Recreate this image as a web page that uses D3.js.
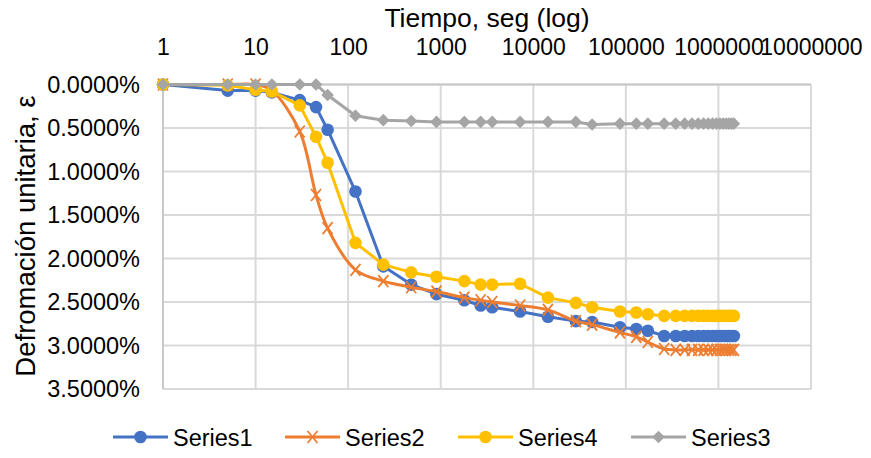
<!DOCTYPE html>
<html><head><meta charset="utf-8">
<script src="https://cdn.jsdelivr.net/npm/d3@7"></script>
<style>body{margin:0;background:#fff;} svg{display:block;font-family:"Liberation Sans",Arial,sans-serif;}</style>
</head><body>
<svg id="c" width="871" height="458"></svg>
<script>
const times = [1,5,10,15,30,45,60,120,240,480,900,1800,2700,3600,7200,14400,28800,43200,86400,129600,172800,259200,345600,432000,518400,604800,691200,777600,864000,950400,1036800,1123200,1209600,1296000,1382400,1468800];
const series1 = [0,0.07,0.07,0.09,0.18,0.26,0.52,1.23,2.09,2.30,2.41,2.48,2.54,2.56,2.61,2.67,2.72,2.73,2.79,2.81,2.83,2.89,2.89,2.89,2.89,2.89,2.89,2.89,2.89,2.89,2.89,2.89,2.89,2.89,2.89,2.89];
const series2 = [0,0,0,0.07,0.54,1.27,1.65,2.13,2.26,2.33,2.38,2.45,2.48,2.50,2.54,2.59,2.72,2.76,2.85,2.90,2.96,3.04,3.05,3.05,3.05,3.05,3.05,3.05,3.05,3.05,3.05,3.05,3.05,3.05,3.05,3.05];
const series4 = [0,0.01,0.06,0.08,0.24,0.60,0.90,1.82,2.07,2.16,2.21,2.26,2.30,2.30,2.29,2.45,2.51,2.56,2.61,2.62,2.64,2.66,2.66,2.66,2.66,2.66,2.66,2.66,2.66,2.66,2.66,2.66,2.66,2.66,2.66,2.66];
const series3 = [0,0,0,0,0,0,0.12,0.36,0.41,0.42,0.43,0.43,0.43,0.43,0.43,0.43,0.43,0.46,0.45,0.45,0.45,0.45,0.45,0.45,0.45,0.45,0.45,0.45,0.45,0.45,0.45,0.45,0.45,0.45,0.45,0.45];
const xTicks = [1,10,100,1000,10000,100000,1000000,10000000];
const yTicks = [0,0.5,1,1.5,2,2.5,3,3.5];
const seriesNames = ["Series1","Series2","Series4","Series3"];
const seriesData = [series1,series2,series4,series3];
const colors = ["#4472C4","#ED7D31","#FFC000","#A5A5A5"];
const markers = ["circle","x","circle","diamond"];
const smooth = [false,true,false,false];
const xTitle = "Tiempo, seg (log)";
const yTitle = "Defromación unitaria, ε";

const svg = d3.select("#c");
const x = d3.scaleLog().domain([1,1e7]).range([163,811]);
const y = d3.scaleLinear().domain([0,3.5]).range([84.5,389]);

const g = svg.append("g");
g.selectAll(".hg").data(yTicks).join("line")
  .attr("x1",x(1)).attr("x2",x(1e7)).attr("y1",d=>y(d)).attr("y2",d=>y(d))
  .attr("stroke","#D9D9D9").attr("stroke-width",2);
g.selectAll(".vg").data(xTicks).join("line")
  .attr("y1",y(0)).attr("y2",y(3.5)).attr("x1",d=>x(d)).attr("x2",d=>x(d))
  .attr("stroke","#D9D9D9").attr("stroke-width",2);
g.append("line").attr("x1",x(1)).attr("x2",x(1e7)).attr("y1",y(0)).attr("y2",y(0)).attr("stroke","#C8C8C8").attr("stroke-width",2);
g.append("line").attr("x1",x(1)).attr("x2",x(1)).attr("y1",y(0)).attr("y2",y(3.5)).attr("stroke","#C8C8C8").attr("stroke-width",2);

const xAxis = d3.axisTop(x).tickValues(xTicks).tickFormat(d3.format("d")).tickSize(0).tickPadding(0);
const xa = svg.append("g").attr("transform","translate(0,55)").call(xAxis);
xa.select(".domain").remove();
xa.selectAll("text").attr("font-size",23).attr("fill","#000").attr("font-family","Liberation Sans, Arial");

const yAxis = d3.axisLeft(y).tickValues(yTicks).tickFormat(d=>d.toFixed(4)+"%").tickSize(0).tickPadding(0);
const ya = svg.append("g").attr("transform","translate(140,0)").call(yAxis);
ya.select(".domain").remove();
ya.selectAll("text").attr("font-size",23.5).attr("fill","#000").attr("font-family","Liberation Sans, Arial");

svg.append("text").attr("x",487).attr("y",27).attr("text-anchor","middle").attr("font-size",26.5).text(xTitle);
svg.append("text").attr("transform","translate(35,236) rotate(-90)").attr("text-anchor","middle").attr("font-size",27.5).text(yTitle);

function drawMarker(sel, type, color){
  if(type==="circle"){
    sel.append("circle").attr("r",6.3).attr("fill",color);
  } else if(type==="diamond"){
    sel.append("path").attr("d","M0,-6.3L6.3,0L0,6.3L-6.3,0Z").attr("fill",color);
  } else if(type==="x"){
    sel.append("path").attr("d","M-5,-6L5,6M-5,6L5,-6").attr("stroke",color).attr("stroke-width",1.8).attr("fill","none");
  }
}

seriesData.forEach((vals,i)=>{
  const pts = times.map((t,j)=>[t,vals[j]]);
  const line = d3.line().x(d=>x(d[0])).y(d=>y(d[1])).curve(smooth[i]?d3.curveCatmullRom.alpha(0.5):d3.curveLinear);
  svg.append("path").datum(pts).attr("d",line).attr("fill","none").attr("stroke",colors[i]).attr("stroke-width",3).attr("stroke-linejoin","round");
  const mg = svg.append("g");
  pts.forEach(p=>{
    const m = mg.append("g").attr("transform",`translate(${x(p[0])},${y(p[1])})`);
    drawMarker(m, markers[i], colors[i]);
  });
});

const legX = [113,285,458,631];
seriesNames.forEach((n,i)=>{
  const lg = svg.append("g").attr("transform",`translate(${legX[i]},437)`);
  lg.append("line").attr("x1",0).attr("x2",55).attr("stroke",colors[i]).attr("stroke-width",3);
  const m = lg.append("g").attr("transform","translate(27.5,0)");
  drawMarker(m, markers[i], colors[i]);
  lg.append("text").attr("x",60).attr("y",8.5).attr("font-size",23.5).text(n);
});
</script>
</body></html>
